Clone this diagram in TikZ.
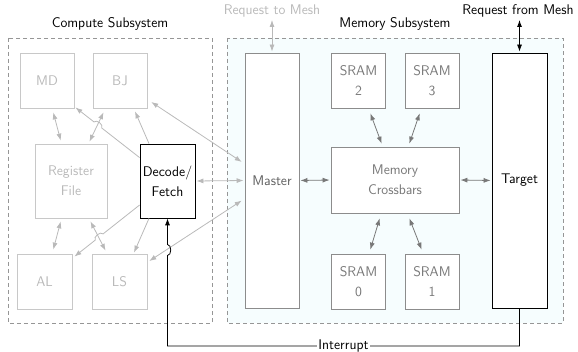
\documentclass[tikz,border=0pt]{standalone}
\usepackage{amsmath,amssymb}
\usepackage{tikz}
\usetikzlibrary{arrows.meta,calc}
\definecolor{box_light}{RGB}{200,200,200}
\definecolor{text_light}{RGB}{185,185,185}
\definecolor{box_mid}{RGB}{140,140,140}
\definecolor{text_mid}{RGB}{120,120,120}
\definecolor{edge_light}{RGB}{185,185,185}
\definecolor{edge_mid}{RGB}{120,120,120}
\definecolor{frame_gray}{RGB}{150,150,150}
\definecolor{mem_fill}{RGB}{246,253,254}

\begin{document}
\begin{tikzpicture}[x=1pt,y=-1pt,>={Latex[length=7pt,width=5pt]},line width=0.8pt,font=\sffamily\fontsize{14}{20}\selectfont]
    \tikzstyle{unit}=[draw=box_light, text=text_light, align=center, inner sep=0pt, minimum width=54pt, minimum height=55pt]
    \tikzstyle{sram}=[draw=box_mid, text=text_mid, fill=white, align=center, inner sep=0pt, minimum width=54pt, minimum height=55pt]
    \tikzstyle{port}=[draw=black, text=black, fill=white, align=center, inner sep=0pt]
    \tikzstyle{frame}=[draw=frame_gray, dash pattern=on 4pt off 3pt]
    \tikzstyle{lite}=[<->, edge_light, shorten <=1pt, shorten >=1pt]
    \tikzstyle{mid}=[<->, edge_mid, shorten <=1pt, shorten >=1pt]

    \useasboundingbox (0,0) rectangle (578,352);

    % subsystems
    \draw[frame] (8,38) rectangle (212,323);
    \draw[frame, fill=mem_fill] (227,38) rectangle (563,323);
    \node (cs)  at (110,24) {Compute Subsystem};
    \node (ms)  at (395,24) {Memory Subsystem};
    \node[text=text_light] (rtm) at (272,11) {Request to Mesh};
    \node (rfm) at (518,11) {Request from Mesh};

    % compute units
    \node[unit] (md) at (47,80.5)   {MD};
    \node[unit] (bj) at (120,80.5)  {BJ};
    \node[unit, minimum width=72pt, minimum height=74pt] (rf) at (71,181) {Register\\File};
    \node[port, minimum width=55pt, minimum height=74pt] (df) at (167.5,181) {Decode/\\Fetch};
    \node[unit, minimum width=55pt] (al) at (44.5,281.5) {AL};
    \node[unit, minimum width=55pt] (ls) at (119.5,281.5) {LS};

    % memory units
    \node[sram, minimum height=255pt, text=text_mid!80!black] (master) at (272,180.5) {Master};
    \node[sram] (s2) at (358.5,80.5)  {SRAM\\2};
    \node[sram] (s3) at (432,80.5)    {SRAM\\3};
    \node[sram, minimum width=128pt, minimum height=66pt] (xbar) at (395,180) {Memory\\Crossbars};
    \node[sram] (s0) at (358.5,281.5) {SRAM\\0};
    \node[sram] (s1) at (432,281.5)   {SRAM\\1};
    \node[port, minimum width=55pt, minimum height=255pt] (target) at (519.5,180.5) {Target};

    % mesh ports
    \coordinate (rtmEnd) at (272,20);
    \coordinate (rfmEnd) at (519.5,20);
    \draw[lite, shorten <=0pt] (rtmEnd) -- (master.north);
    \draw[<->, black, shorten >=1pt] (rfmEnd) -- (target.north);

    % compute side links
    \draw[lite] ([shift={(6,3)}]md.south) -- ([shift={(-10,-2)}]rf.north);
    \draw[lite] ([shift={(-10,2)}]rf.south) -- ([shift={(8.5,-3)}]al.north);
    \draw[lite] ([shift={(-16,3)}]bj.south) -- ([shift={(18,-1)}]rf.north);
    \draw[lite] ([shift={(19,2)}]rf.south) -- ([shift={(-13.5,-2)}]ls.north);
    \draw[->, edge_light] ([shift={(-18.5,0)}]df.north) -- ([shift={(15,3)}]bj.south);
    \draw[->, edge_light] ([shift={(-18.5,0)}]df.south) -- ([shift={(14.5,-1)}]ls.north);
    \draw[lite] ([shift={(3,-7)}]bj.south east) -- ([shift={(-2,-18)}]master.west);
    \draw[lite] ([shift={(1,8)}]ls.north east) -- ([shift={(-2,19.5)}]master.west);
    \draw[lite] (df.east) -- (master.west);

    % hops over the register file links
    \coordinate (dmA) at ([shift={(0,14)}]df.north west);
    \coordinate (dmB) at ([shift={(1,-1)}]md.south east);
    \draw[->, edge_light] (dmA) -- ($(dmA)!0.59!(dmB)$) to[bend right=90] ($(dmA)!0.71!(dmB)$) -- (dmB);
    \coordinate (daA) at ([shift={(0,24)}]df.west);
    \coordinate (daB) at ([shift={(2,3)}]al.north east);
    \draw[->, edge_light] (daA) -- ($(daA)!0.56!(daB)$) to[bend right=90] ($(daA)!0.68!(daB)$) -- (daB);

    % memory side links
    \draw[mid] (master.east) -- (xbar.west);
    \draw[mid] (xbar.east) -- (target.west);
    \draw[mid] ([shift={(11.5,4)}]s2.south) -- ([shift={(-13,-2)}]xbar.north);
    \draw[mid] ([shift={(-12,4)}]s3.south) -- ([shift={(14,-2)}]xbar.north);
    \draw[mid] ([shift={(-15,4)}]xbar.south) -- ([shift={(11.5,-3)}]s0.north);
    \draw[mid] ([shift={(14,4)}]xbar.south) -- ([shift={(-10,-3)}]s1.north);

    % interrupt line
    \coordinate (irq) at (167.5,346);
    \draw[->, black] (target.south) |- node[pos=0.75, fill=white, inner sep=1pt] (intr) {Interrupt} (irq)
      -- (167.5,255.5) to[bend right=90] (167.5,244.5) -- (df.south);
\end{tikzpicture}
\end{document}
